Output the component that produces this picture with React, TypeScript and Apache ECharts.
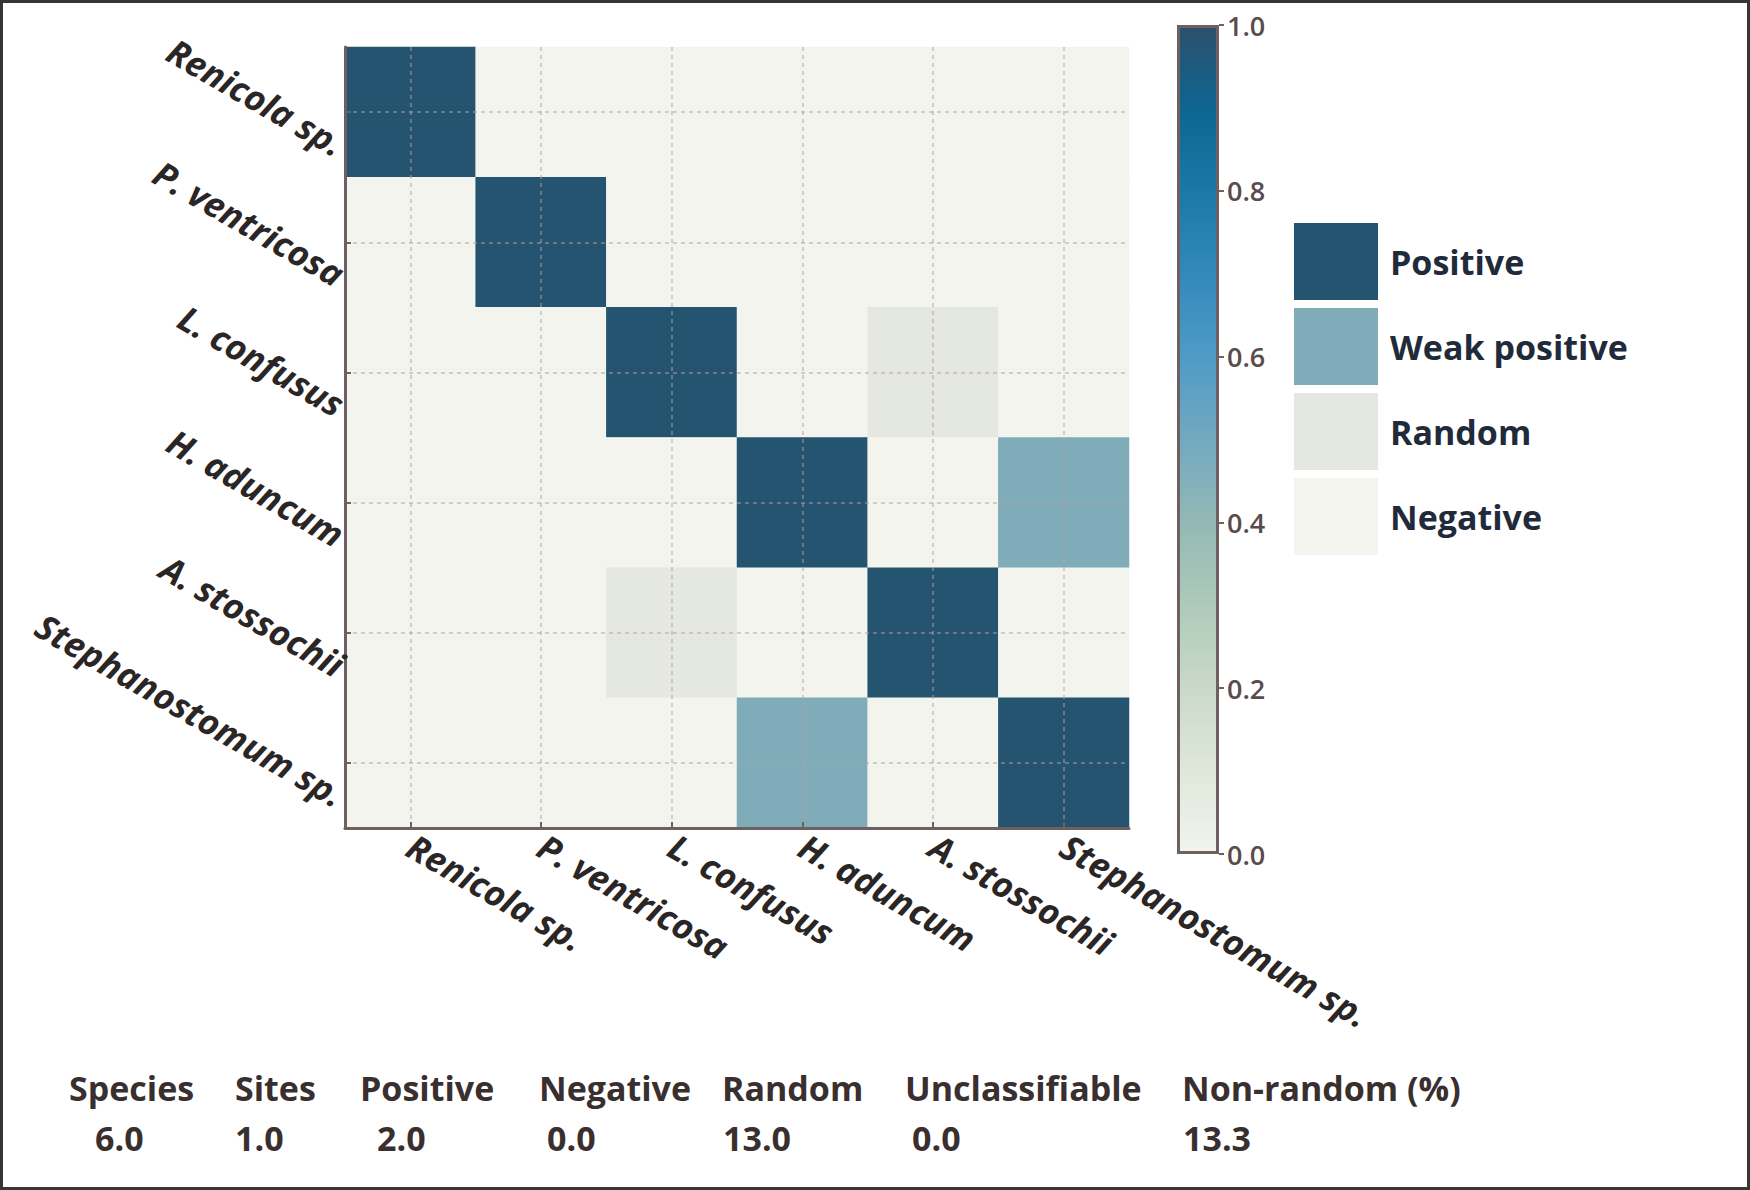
import React, { useEffect, useRef } from 'react';
import * as echarts from 'echarts';

// ---- data ----
const species = ['Renicola sp.', 'P. ventricosa', 'L. confusus', 'H. aduncum', 'A. stossochii', 'Stephanostomum sp.'];
// class codes: 0 = Negative, 1 = Random, 2 = Weak positive, 3 = Positive
const rowRenicola = [3, 0, 0, 0, 0, 0];
const rowVentricosa = [0, 3, 0, 0, 0, 0];
const rowConfusus = [0, 0, 3, 0, 1, 0];
const rowAduncum = [0, 0, 0, 3, 0, 2];
const rowStossochii = [0, 0, 1, 0, 3, 0];
const rowStephanostomum = [0, 0, 0, 2, 0, 3];
const classLabels = ['Negative', 'Random', 'Weak positive', 'Positive'];
const legendOrder = [3, 2, 1, 0];
const colorbarValue = [1];
const statHeaders = ['Species', 'Sites', 'Positive', 'Negative', 'Random', 'Unclassifiable', 'Non-random (%)'];
const statValues = ['6.0', '1.0', '2.0', '0.0', '13.0', '0.0', '13.3'];

// ---- layout / style ----
const classColors = ['#f3f4ee', '#e4e8e0', '#80abb8', '#24546f'];
const headerX = [69, 235, 360, 539, 722, 905, 1182];
const valueX = [95, 235, 377, 547, 723, 912, 1183];
const FONT = "'Open Sans', 'Noto Sans', sans-serif";
const AXIS_COLOR = '#6e6060';

export default function App() {
  const ref = useRef<HTMLDivElement>(null);

  useEffect(() => {
    if (!ref.current) return;
    const chart = echarts.init(ref.current, undefined, { renderer: 'svg' });

    const rows = [rowRenicola, rowVentricosa, rowConfusus, rowAduncum, rowStossochii, rowStephanostomum];
    const heatData: number[][] = [];
    rows.forEach((row, r) => row.forEach((v, c) => heatData.push([c, r, v])));

    const labelStyle = {
      fontFamily: FONT,
      fontSize: 35,
      fontWeight: 'bold' as const,
      fontStyle: 'italic' as const,
      color: '#2b2626',
    };

    const graphics: any[] = [
      {
        type: 'rect',
        shape: { x: 1.5, y: 1.5, width: 1747, height: 1187 },
        style: { fill: 'none', stroke: '#3a3535', lineWidth: 3 },
        silent: true,
      },
    ];
    statHeaders.forEach((t, i) => {
      graphics.push({
        type: 'text',
        x: headerX[i],
        y: 1088,
        style: { text: t, fontFamily: FONT, fontSize: 34, fontWeight: 'bold', fill: '#3a2f2f', verticalAlign: 'middle', align: 'left' },
      });
      graphics.push({
        type: 'text',
        x: valueX[i],
        y: 1138,
        style: { text: statValues[i], fontFamily: FONT, fontSize: 34, fontWeight: 'bold', fill: '#3a2f2f', verticalAlign: 'middle', align: 'left' },
      });
    });

    chart.setOption({
      animation: false,
      backgroundColor: '#ffffff',
      grid: [
        { left: 345, top: 47, width: 784, height: 781, containLabel: false },
        { left: 1177, top: 25, width: 42, height: 829, containLabel: false },
      ],
      xAxis: [
        {
          type: 'category',
          gridIndex: 0,
          data: species,
          z: 4,
          axisLine: { show: true, lineStyle: { color: AXIS_COLOR, width: 3 } },
          axisTick: { show: true, inside: true, alignWithLabel: true, length: 6, lineStyle: { color: AXIS_COLOR, width: 2 } },
          splitLine: { show: true, alignWithLabel: true, interval: 0, lineStyle: { color: 'rgba(185,160,160,0.65)', width: 1.5, type: [4, 4] } },
          axisLabel: { ...labelStyle, rotate: -30, interval: 0, margin: 15 },
        },
        {
          type: 'category',
          gridIndex: 1,
          data: ['c'],
          show: false,
        },
      ],
      yAxis: [
        {
          type: 'category',
          gridIndex: 0,
          data: species,
          inverse: true,
          z: 4,
          axisLine: { show: true, lineStyle: { color: AXIS_COLOR, width: 3 } },
          axisTick: { show: true, inside: true, alignWithLabel: true, length: 6, lineStyle: { color: AXIS_COLOR, width: 2 } },
          splitLine: { show: true, alignWithLabel: true, interval: 0, lineStyle: { color: 'rgba(185,160,160,0.65)', width: 1.5, type: [4, 4] } },
          axisLabel: { ...labelStyle, rotate: -30, interval: 0, margin: -16, verticalAlign: 'top', padding: [22, 0, 0, 0] },
        },
        {
          type: 'value',
          gridIndex: 1,
          position: 'right',
          min: 0,
          max: 1,
          interval: 0.2,
          axisLine: { show: false },
          splitLine: { show: false },
          axisTick: { show: true, length: 5, lineStyle: { color: AXIS_COLOR, width: 2 } },
          axisLabel: {
            formatter: (v: number) => v.toFixed(1),
            fontFamily: FONT,
            fontSize: 27,
            fontWeight: 600,
            color: '#5a4c4c',
            margin: 8,
          },
        },
      ],
      visualMap: [
        {
          type: 'piecewise',
          seriesIndex: 0,
          dimension: 2,
          orient: 'vertical',
          align: 'left',
          left: 1279,
          top: 208,
          itemWidth: 84,
          itemHeight: 77,
          itemGap: 8,
          textGap: 12,
          itemSymbol: 'rect',
          selectedMode: false,
          pieces: legendOrder.map((v) => ({ value: v, label: classLabels[v], color: classColors[v] })),
          textStyle: { fontFamily: FONT, fontSize: 34, fontWeight: 'bold', color: '#1f2b3b', padding: [0, 0, 22, 0] },
        },
      ],
      series: [
        {
          type: 'heatmap',
          xAxisIndex: 0,
          yAxisIndex: 0,
          data: heatData,
          z: 2,
          itemStyle: { borderWidth: 0 },
          emphasis: { disabled: true },
        },
        {
          type: 'bar',
          xAxisIndex: 1,
          yAxisIndex: 1,
          data: colorbarValue,
          barWidth: '100%',
          silent: true,
          itemStyle: {
            borderColor: AXIS_COLOR,
            borderWidth: 3,
            color: new echarts.graphic.LinearGradient(0, 0, 0, 1, [
              { offset: 0, color: '#2d506b' },
              { offset: 0.1, color: '#0d6690' },
              { offset: 0.2, color: '#1b78a7' },
              { offset: 0.3, color: '#3389bb' },
              { offset: 0.4, color: '#4f9bc6' },
              { offset: 0.5, color: '#72a9bf' },
              { offset: 0.6, color: '#93b8b5' },
              { offset: 0.7, color: '#aecab9' },
              { offset: 0.8, color: '#c9d9c9' },
              { offset: 0.9, color: '#dfe7da' },
              { offset: 1, color: '#f2f4ee' },
            ]),
          },
        },
      ],
      graphic: graphics,
    });

    return () => chart.dispose();
  }, []);

  return (
    <div
      ref={ref}
      style={{ position: 'absolute', left: 0, top: 0, width: 1750, height: 1190, background: '#fff' }}
    />
  );
}
